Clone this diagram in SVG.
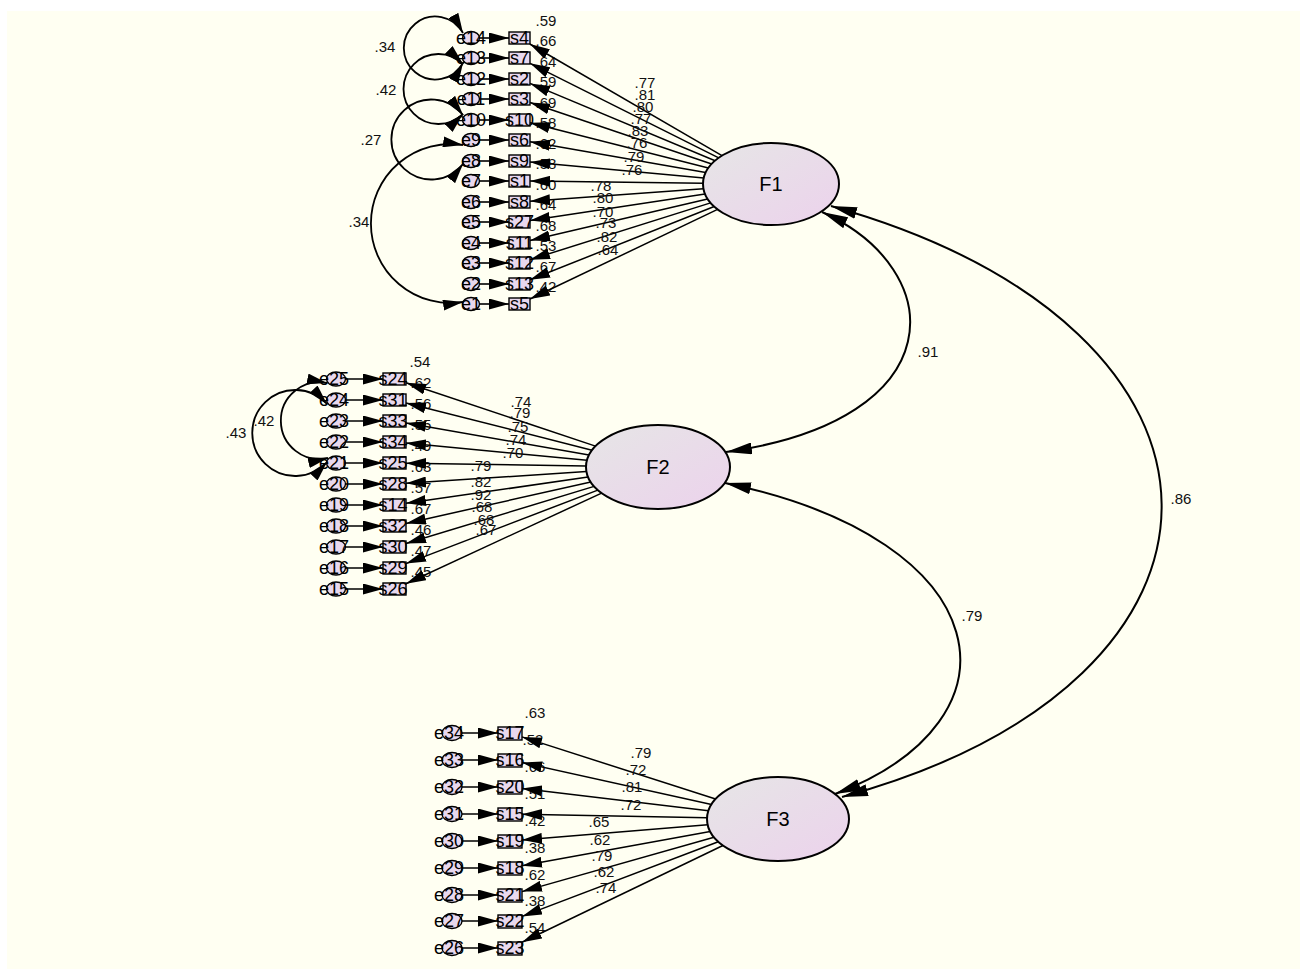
<svg xmlns="http://www.w3.org/2000/svg" width="1307" height="972" viewBox="0 0 1307 972">
<defs>
<linearGradient id="g" x1="0" y1="0" x2="1" y2="1">
<stop offset="0" stop-color="#e6e6e6"/>
<stop offset="1" stop-color="#ecd2ec"/>
</linearGradient>
<marker id="ah" viewBox="0 0 20 11" refX="20" refY="5.5" markerWidth="20" markerHeight="11" markerUnits="userSpaceOnUse" orient="auto-start-reverse"><path d="M0,0 L20,5.5 L0,11 z" fill="#000"/></marker>
<marker id="ahb" viewBox="0 0 26 12" refX="26" refY="6" markerWidth="26" markerHeight="12" markerUnits="userSpaceOnUse" orient="auto-start-reverse"><path d="M0,0 L26,6 L0,12 z" fill="#000"/></marker>
</defs>
<style>
.err{fill:#e8d8ee;stroke:#000;stroke-width:1.4}
.obs{fill:#e8d8ee;stroke:#000;stroke-width:1.4}
.lat{fill:url(#g);stroke:#000;stroke-width:2}
text{font-family:"Liberation Sans",Arial,sans-serif;fill:#000}
.nl{font-size:18px;text-anchor:middle}
.num{font-size:15px;text-anchor:middle;fill:#111}
.fl{font-size:20px;text-anchor:middle}
.ln{stroke:#000;stroke-width:1.5;fill:none;marker-end:url(#ah)}
.ea{stroke:#000;stroke-width:1.6;fill:none;marker-end:url(#ah)}
.ec{stroke:#000;stroke-width:1.8;fill:none;marker-start:url(#ah);marker-end:url(#ah)}
.cv{stroke:#000;stroke-width:2;fill:none;marker-start:url(#ahb);marker-end:url(#ahb)}
</style>
<rect x="0" y="0" width="1307" height="972" fill="#ffffff"/>
<rect x="7" y="11" width="1293" height="958" fill="#fffff2"/>

<g id="F1"><ellipse class="lat" cx="771" cy="184" rx="68" ry="41"/><text class="fl" x="771" y="191">F1</text></g>
<g id="F2"><ellipse class="lat" cx="658" cy="467" rx="72" ry="42"/><text class="fl" x="658" y="474">F2</text></g>
<g id="F3"><ellipse class="lat" cx="778" cy="819" rx="71" ry="42"/><text class="fl" x="778" y="826">F3</text></g>

<!-- F1 indicators -->
<g id="n_e14"><ellipse class="err" cx="471" cy="38" rx="8.5" ry="6.5"/><text class="nl" x="471" y="44">e14</text></g>
<g id="n_s4"><rect class="obs" x="509" y="32" width="21" height="12"/><text class="nl" x="519.5" y="44">s4</text><text class="num" x="546" y="26">.59</text></g>
<g id="n_e13"><ellipse class="err" cx="471" cy="58" rx="8.5" ry="6.5"/><text class="nl" x="471" y="64">e13</text></g>
<g id="n_s7"><rect class="obs" x="509" y="52" width="21" height="12"/><text class="nl" x="519.5" y="64">s7</text><text class="num" x="546" y="46">.66</text></g>
<g id="n_e12"><ellipse class="err" cx="471" cy="79" rx="8.5" ry="6.5"/><text class="nl" x="471" y="85">e12</text></g>
<g id="n_s2"><rect class="obs" x="509" y="73" width="21" height="12"/><text class="nl" x="519.5" y="85">s2</text><text class="num" x="546" y="67">.64</text></g>
<g id="n_e11"><ellipse class="err" cx="471" cy="99" rx="8.5" ry="6.5"/><text class="nl" x="471" y="105">e11</text></g>
<g id="n_s3"><rect class="obs" x="509" y="93" width="21" height="12"/><text class="nl" x="519.5" y="105">s3</text><text class="num" x="546" y="87">.59</text></g>
<g id="n_e10"><ellipse class="err" cx="471" cy="120" rx="8.5" ry="6.5"/><text class="nl" x="471" y="126">e10</text></g>
<g id="n_s10"><rect class="obs" x="509" y="114" width="21" height="12"/><text class="nl" x="519.5" y="126">s10</text><text class="num" x="546" y="108">.69</text></g>
<g id="n_e9"><ellipse class="err" cx="471" cy="140" rx="8.5" ry="6.5"/><text class="nl" x="471" y="146">e9</text></g>
<g id="n_s6"><rect class="obs" x="509" y="134" width="21" height="12"/><text class="nl" x="519.5" y="146">s6</text><text class="num" x="546" y="128">.58</text></g>
<g id="n_e8"><ellipse class="err" cx="471" cy="161" rx="8.5" ry="6.5"/><text class="nl" x="471" y="167">e8</text></g>
<g id="n_s9"><rect class="obs" x="509" y="155" width="21" height="12"/><text class="nl" x="519.5" y="167">s9</text><text class="num" x="546" y="149">.62</text></g>
<g id="n_e7"><ellipse class="err" cx="471" cy="181" rx="8.5" ry="6.5"/><text class="nl" x="471" y="187">e7</text></g>
<g id="n_s1"><rect class="obs" x="509" y="175" width="21" height="12"/><text class="nl" x="519.5" y="187">s1</text><text class="num" x="546" y="169">.58</text></g>
<g id="n_e6"><ellipse class="err" cx="471" cy="202" rx="8.5" ry="6.5"/><text class="nl" x="471" y="208">e6</text></g>
<g id="n_s8"><rect class="obs" x="509" y="196" width="21" height="12"/><text class="nl" x="519.5" y="208">s8</text><text class="num" x="546" y="190">.60</text></g>
<g id="n_e5"><ellipse class="err" cx="471" cy="222" rx="8.5" ry="6.5"/><text class="nl" x="471" y="228">e5</text></g>
<g id="n_s27"><rect class="obs" x="509" y="216" width="21" height="12"/><text class="nl" x="519.5" y="228">s27</text><text class="num" x="546" y="210">.64</text></g>
<g id="n_e4"><ellipse class="err" cx="471" cy="243" rx="8.5" ry="6.5"/><text class="nl" x="471" y="249">e4</text></g>
<g id="n_s11"><rect class="obs" x="509" y="237" width="21" height="12"/><text class="nl" x="519.5" y="249">s11</text><text class="num" x="546" y="231">.68</text></g>
<g id="n_e3"><ellipse class="err" cx="471" cy="263" rx="8.5" ry="6.5"/><text class="nl" x="471" y="269">e3</text></g>
<g id="n_s12"><rect class="obs" x="509" y="257" width="21" height="12"/><text class="nl" x="519.5" y="269">s12</text><text class="num" x="546" y="251">.53</text></g>
<g id="n_e2"><ellipse class="err" cx="471" cy="284" rx="8.5" ry="6.5"/><text class="nl" x="471" y="290">e2</text></g>
<g id="n_s13"><rect class="obs" x="509" y="278" width="21" height="12"/><text class="nl" x="519.5" y="290">s13</text><text class="num" x="546" y="272">.67</text></g>
<g id="n_e1"><ellipse class="err" cx="471" cy="304" rx="8.5" ry="6.5"/><text class="nl" x="471" y="310">e1</text></g>
<g id="n_s5"><rect class="obs" x="509" y="298" width="21" height="12"/><text class="nl" x="519.5" y="310">s5</text><text class="num" x="546" y="292">.42</text></g>

<!-- F2 indicators -->
<g id="n_e25"><ellipse class="err" cx="336" cy="379" rx="9.5" ry="7"/><text class="nl" x="334" y="385">e25</text></g>
<g id="n_s24"><rect class="obs" x="383" y="373" width="23" height="12"/><text class="nl" x="393" y="385">s24</text><text class="num" x="420" y="367">.54</text></g>
<g id="n_e24"><ellipse class="err" cx="336" cy="400" rx="9.5" ry="7"/><text class="nl" x="334" y="406">e24</text></g>
<g id="n_s31"><rect class="obs" x="383" y="394" width="23" height="12"/><text class="nl" x="393" y="406">s31</text><text class="num" x="421" y="388">.62</text></g>
<g id="n_e23"><ellipse class="err" cx="336" cy="421" rx="9.5" ry="7"/><text class="nl" x="334" y="427">e23</text></g>
<g id="n_s33"><rect class="obs" x="383" y="415" width="23" height="12"/><text class="nl" x="393" y="427">s33</text><text class="num" x="421" y="409">.56</text></g>
<g id="n_e22"><ellipse class="err" cx="336" cy="442" rx="9.5" ry="7"/><text class="nl" x="334" y="448">e22</text></g>
<g id="n_s34"><rect class="obs" x="383" y="436" width="23" height="12"/><text class="nl" x="393" y="448">s34</text><text class="num" x="421" y="430">.55</text></g>
<g id="n_e21"><ellipse class="err" cx="336" cy="463" rx="9.5" ry="7"/><text class="nl" x="334" y="469">e21</text></g>
<g id="n_s25"><rect class="obs" x="383" y="457" width="23" height="12"/><text class="nl" x="393" y="469">s25</text><text class="num" x="421" y="451">.49</text></g>
<g id="n_e20"><ellipse class="err" cx="336" cy="484" rx="9.5" ry="7"/><text class="nl" x="334" y="490">e20</text></g>
<g id="n_s28"><rect class="obs" x="383" y="478" width="23" height="12"/><text class="nl" x="393" y="490">s28</text><text class="num" x="421" y="472">.63</text></g>
<g id="n_e19"><ellipse class="err" cx="336" cy="505" rx="9.5" ry="7"/><text class="nl" x="334" y="511">e19</text></g>
<g id="n_s14"><rect class="obs" x="383" y="499" width="23" height="12"/><text class="nl" x="393" y="511">s14</text><text class="num" x="421" y="493">.57</text></g>
<g id="n_e18"><ellipse class="err" cx="336" cy="526" rx="9.5" ry="7"/><text class="nl" x="334" y="532">e18</text></g>
<g id="n_s32"><rect class="obs" x="383" y="520" width="23" height="12"/><text class="nl" x="393" y="532">s32</text><text class="num" x="421" y="514">.67</text></g>
<g id="n_e17"><ellipse class="err" cx="336" cy="547" rx="9.5" ry="7"/><text class="nl" x="334" y="553">e17</text></g>
<g id="n_s30"><rect class="obs" x="383" y="541" width="23" height="12"/><text class="nl" x="393" y="553">s30</text><text class="num" x="421" y="535">.46</text></g>
<g id="n_e16"><ellipse class="err" cx="336" cy="568" rx="9.5" ry="7"/><text class="nl" x="334" y="574">e16</text></g>
<g id="n_s29"><rect class="obs" x="383" y="562" width="23" height="12"/><text class="nl" x="393" y="574">s29</text><text class="num" x="421" y="556">.47</text></g>
<g id="n_e15"><ellipse class="err" cx="336" cy="589" rx="9.5" ry="7"/><text class="nl" x="334" y="595">e15</text></g>
<g id="n_s26"><rect class="obs" x="383" y="583" width="23" height="12"/><text class="nl" x="393" y="595">s26</text><text class="num" x="421" y="577">.45</text></g>

<!-- F3 indicators -->
<g id="n_e34"><ellipse class="err" cx="452" cy="733" rx="10" ry="7.5"/><text class="nl" x="449" y="739">e34</text></g>
<g id="n_s17"><rect class="obs" x="498" y="727" width="24" height="13"/><text class="nl" x="510" y="739">s17</text><text class="num" x="535" y="718">.63</text></g>
<g id="n_e33"><ellipse class="err" cx="452" cy="760" rx="10" ry="7.5"/><text class="nl" x="449" y="766">e33</text></g>
<g id="n_s16"><rect class="obs" x="498" y="754" width="24" height="13"/><text class="nl" x="510" y="766">s16</text><text class="num" x="533" y="745">.52</text></g>
<g id="n_e32"><ellipse class="err" cx="452" cy="787" rx="10" ry="7.5"/><text class="nl" x="449" y="793">e32</text></g>
<g id="n_s20"><rect class="obs" x="498" y="781" width="24" height="13"/><text class="nl" x="510" y="793">s20</text><text class="num" x="535" y="772">.66</text></g>
<g id="n_e31"><ellipse class="err" cx="452" cy="814" rx="10" ry="7.5"/><text class="nl" x="449" y="820">e31</text></g>
<g id="n_s15"><rect class="obs" x="498" y="808" width="24" height="13"/><text class="nl" x="510" y="820">s15</text><text class="num" x="535" y="799">.51</text></g>
<g id="n_e30"><ellipse class="err" cx="452" cy="841" rx="10" ry="7.5"/><text class="nl" x="449" y="847">e30</text></g>
<g id="n_s19"><rect class="obs" x="498" y="835" width="24" height="13"/><text class="nl" x="510" y="847">s19</text><text class="num" x="535" y="826">.42</text></g>
<g id="n_e29"><ellipse class="err" cx="452" cy="868" rx="10" ry="7.5"/><text class="nl" x="449" y="874">e29</text></g>
<g id="n_s18"><rect class="obs" x="498" y="862" width="24" height="13"/><text class="nl" x="510" y="874">s18</text><text class="num" x="535" y="853">.38</text></g>
<g id="n_e28"><ellipse class="err" cx="452" cy="895" rx="10" ry="7.5"/><text class="nl" x="449" y="901">e28</text></g>
<g id="n_s21"><rect class="obs" x="498" y="889" width="24" height="13"/><text class="nl" x="510" y="901">s21</text><text class="num" x="535" y="880">.62</text></g>
<g id="n_e27"><ellipse class="err" cx="452" cy="921" rx="10" ry="7.5"/><text class="nl" x="449" y="927">e27</text></g>
<g id="n_s22"><rect class="obs" x="498" y="915" width="24" height="13"/><text class="nl" x="510" y="927">s22</text><text class="num" x="535" y="906">.38</text></g>
<g id="n_e26"><ellipse class="err" cx="452" cy="948" rx="10" ry="7.5"/><text class="nl" x="449" y="954">e26</text></g>
<g id="n_s23"><rect class="obs" x="498" y="942" width="24" height="13"/><text class="nl" x="510" y="954">s23</text><text class="num" x="535" y="933">.54</text></g>

<g id="connectors">
<path class="ln" d="M722,155.6 L529.8,44"/>
<path class="ln" d="M718.7,157.8 L530,63.3"/>
<path class="ln" d="M715.1,160.7 L530,83.4"/>
<path class="ln" d="M711.7,164 L530,102.5"/>
<path class="ln" d="M708.4,168.1 L530,122.7"/>
<path class="ln" d="M705.7,172.6 L530,141.8"/>
<path class="ln" d="M703.8,177.9 L530,162"/>
<path class="ln" d="M703,183.2 L530,181.1"/>
<path class="ln" d="M703.5,188.8 L530,201.2"/>
<path class="ln" d="M705,194 L530,220.4"/>
<path class="ln" d="M707.6,198.9 L530,240.5"/>
<path class="ln" d="M710.6,202.9 L530,259.7"/>
<path class="ln" d="M714.2,206.5 L530,279.8"/>
<path class="ln" d="M717.6,209.4 L530,299"/>
<path class="ea" d="M479.5,38 L509,38"/>
<path class="ea" d="M479.5,58 L509,58"/>
<path class="ea" d="M479.5,79 L509,79"/>
<path class="ea" d="M479.5,99 L509,99"/>
<path class="ea" d="M479.5,120 L509,120"/>
<path class="ea" d="M479.5,140 L509,140"/>
<path class="ea" d="M479.5,161 L509,161"/>
<path class="ea" d="M479.5,181 L509,181"/>
<path class="ea" d="M479.5,202 L509,202"/>
<path class="ea" d="M479.5,222 L509,222"/>
<path class="ea" d="M479.5,243 L509,243"/>
<path class="ea" d="M479.5,263 L509,263"/>
<path class="ea" d="M479.5,284 L509,284"/>
<path class="ea" d="M479.5,304 L509,304"/>
<path class="ec" d="M463,33 A31.5,31.5 0 1 0 463,63"/>
<path class="ec" d="M463,64 A35,35 0 1 0 463,114"/>
<path class="ec" d="M463,115 A40,40 0 1 0 463,164"/>
<path class="ec" d="M463,145 A79.5,79.5 0 1 0 463,302"/>
<path class="ln" d="M595.5,446.1 L406,382.8"/>
<path class="ln" d="M592,450.2 L406,402.9"/>
<path class="ln" d="M589,455 L406,423"/>
<path class="ln" d="M586.9,460.3 L406,443.1"/>
<path class="ln" d="M586,465.9 L406,463.2"/>
<path class="ln" d="M586.4,471.6 L406,483.3"/>
<path class="ln" d="M588.1,477.1 L406,503.3"/>
<path class="ln" d="M590.8,482.1 L406,523.4"/>
<path class="ln" d="M594.1,486.4 L406,543.5"/>
<path class="ln" d="M597.8,490.1 L406,563.6"/>
<path class="ln" d="M601.6,493.1 L406,583.7"/>
<path class="ea" d="M345.5,379 L383,379"/>
<path class="ea" d="M345.5,400 L383,400"/>
<path class="ea" d="M345.5,421 L383,421"/>
<path class="ea" d="M345.5,442 L383,442"/>
<path class="ea" d="M345.5,463 L383,463"/>
<path class="ea" d="M345.5,484 L383,484"/>
<path class="ea" d="M345.5,505 L383,505"/>
<path class="ea" d="M345.5,526 L383,526"/>
<path class="ea" d="M345.5,547 L383,547"/>
<path class="ea" d="M345.5,568 L383,568"/>
<path class="ea" d="M345.5,589 L383,589"/>
<path class="ec" d="M327,383 A38.4,38.4 0 1 0 328,458"/>
<path class="ec" d="M327,404 A43,43 0 1 0 327,462"/>
<path class="ln" d="M715.6,799 L522,736.9"/>
<path class="ln" d="M711.5,804.4 L522,762.6"/>
<path class="ln" d="M708.4,810.7 L522,788.4"/>
<path class="ln" d="M707,817.7 L522,814.2"/>
<path class="ln" d="M707.7,824.8 L522,840"/>
<path class="ln" d="M710.2,831.4 L522,865.8"/>
<path class="ln" d="M714,837.2 L522,891.6"/>
<path class="ln" d="M718.3,841.7 L522,916.4"/>
<path class="ln" d="M722.9,845.5 L522,942.2"/>
<path class="ea" d="M462,733 L498,733"/>
<path class="ea" d="M462,760 L498,760"/>
<path class="ea" d="M462,787 L498,787"/>
<path class="ea" d="M462,814 L498,814"/>
<path class="ea" d="M462,841 L498,841"/>
<path class="ea" d="M462,868 L498,868"/>
<path class="ea" d="M462,895 L498,895"/>
<path class="ea" d="M462,921 L498,921"/>
<path class="ea" d="M462,948 L498,948"/>
<path class="cv" d="M822,212 C950,270 955,420 726,452"/>
<path class="cv" d="M831,206 C1270,330 1270,680 842,797"/>
<path class="cv" d="M725,483 C1000,540 1030,720 835,794"/>
</g>

<g id="labels">
<text class="num" x="645" y="88">.77</text>
<text class="num" x="645" y="100">.81</text>
<text class="num" x="643" y="112">.80</text>
<text class="num" x="641" y="124">.77</text>
<text class="num" x="638" y="136">.83</text>
<text class="num" x="637" y="148">.76</text>
<text class="num" x="634" y="162">.79</text>
<text class="num" x="632" y="175">.76</text>
<text class="num" x="601" y="191">.78</text>
<text class="num" x="603" y="203">.80</text>
<text class="num" x="603" y="217">.70</text>
<text class="num" x="606" y="228">.73</text>
<text class="num" x="607" y="242">.82</text>
<text class="num" x="608" y="255">.64</text>
<text class="num" x="385" y="52">.34</text>
<text class="num" x="386" y="95">.42</text>
<text class="num" x="371" y="145">.27</text>
<text class="num" x="359" y="227">.34</text>
<text class="num" x="521" y="407">.74</text>
<text class="num" x="520" y="418">.79</text>
<text class="num" x="518" y="432">.75</text>
<text class="num" x="516" y="445">.74</text>
<text class="num" x="513" y="458">.70</text>
<text class="num" x="481" y="471">.79</text>
<text class="num" x="481" y="487">.82</text>
<text class="num" x="481" y="500">.92</text>
<text class="num" x="482" y="512">.68</text>
<text class="num" x="484" y="525">.68</text>
<text class="num" x="486" y="535">.67</text>
<text class="num" x="264" y="426">.42</text>
<text class="num" x="236" y="438">.43</text>
<text class="num" x="641" y="758">.79</text>
<text class="num" x="636" y="775">.72</text>
<text class="num" x="632" y="792">.81</text>
<text class="num" x="631" y="810">.72</text>
<text class="num" x="599" y="827">.65</text>
<text class="num" x="600" y="845">.62</text>
<text class="num" x="602" y="861">.79</text>
<text class="num" x="604" y="877">.62</text>
<text class="num" x="606" y="893">.74</text>
<text class="num" x="928" y="357">.91</text>
<text class="num" x="1181" y="504">.86</text>
<text class="num" x="972" y="621">.79</text>
</g>
</svg>
